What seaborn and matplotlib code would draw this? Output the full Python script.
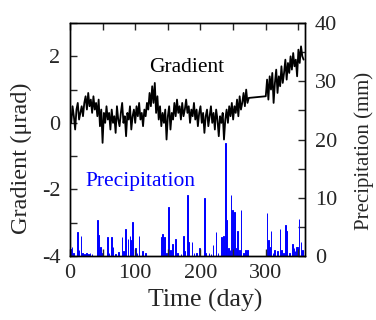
import seaborn as sns
import matplotlib.pyplot as plt
from matplotlib.ticker import MultipleLocator

# gradient, every 2 days (day 0-274, then 300-358)
grad_day = list(range(0, 276, 2)) + list(range(300, 360, 2))
grad_val = [
    0.3, 0.0, 0.5, 0.2, -0.2, 0.4, 0.6, 0.1, 0.3, 0.5,
    0.2, 0.6, 0.8, 0.4, 0.9, 0.5, 0.7, 0.3, 0.8, 0.4,
    0.6, 0.2, 0.7, -0.1, 0.4, -0.6, 0.3, 0.0, 0.5, 0.1,
    0.3, -0.2, 0.4, 0.0, 0.2, -0.3, 0.5, 0.1, -0.1, 0.3,
    0.6, 0.0, 0.2, -0.4, 0.3, 0.1, 0.5, -0.2, 0.2, 0.4,
    0.0, 0.5, 0.2, 0.6, 0.1, 0.3, -0.1, 0.4, 0.2, 0.6,
    0.4, 0.9, 0.5, 1.1, 0.6, 1.2, 0.3, 0.8, 0.1, 0.5,
    -0.1, 0.3, 0.0, 0.4, -0.5, 0.2, 0.5, -0.2, 0.3, 0.1,
    0.6, 0.2, 0.7, 0.3, 0.5, 0.1, 0.6, 0.2, 0.4, 0.7,
    0.3, 0.5, 0.0, 0.4, 0.2, 0.6, 0.1, 0.4, -0.1, 0.3,
    0.5, 0.0, 0.3, -0.3, 0.2, 0.4, -0.1, 0.2, 0.5, 0.0,
    0.3, -0.2, 0.4, 0.1, -0.4, 0.2, 0.0, 0.3, -0.5, 0.1,
    0.4, 0.0, 0.5, 0.2, 0.6, 0.1, 0.5, 0.3, 0.7, 0.2,
    0.8, 0.4, 0.6, 0.9, 0.5, 1.0, 0.6, 0.75,
    0.8, 1.3, 0.7, 1.4, 1.0, 1.5, 0.6, 1.2, 1.6, 0.9,
    1.4, 1.1, 1.7, 1.2, 1.5, 1.9, 1.3, 1.8, 1.5, 2.0,
    1.6, 2.1, 1.7, 1.9, 1.4, 2.2, 1.8, 2.3, 2.0, 1.9,
]

# daily precipitation (mm)
rain_day = [1, 3, 5, 12, 14, 17, 19, 22, 25, 28, 31, 34, 42, 44, 47, 50, 58, 60,
            64, 66, 70, 74, 80, 82, 85, 89, 92, 93, 96, 100, 103, 106, 111, 116,
            140, 142, 145, 148, 151, 154, 157, 162, 165, 170, 174, 176, 180, 182,
            187, 190, 194, 198, 206, 208, 213, 216, 219, 224, 227, 232, 235, 238,
            240, 243, 245, 247, 249, 252, 255, 257, 260, 262, 266, 269, 272,
            302, 304, 306, 308, 311, 313, 318, 322, 324, 327, 330, 332, 336,
            341, 343, 345, 347, 349, 351, 354, 356]
rain_mm = [1.2, 1.5, 0.6, 4.1, 1.0, 3.4, 0.6, 0.4, 0.5, 0.3, 0.5, 0.3, 6.2, 3.6,
           1.5, 0.6, 3.2, 0.5, 3.3, 1.5, 0.4, 0.7, 3.2, 0.8, 4.6, 3.0, 3.4, 2.7,
           5.8, 1.3, 0.5, 3.5, 0.8, 0.5, 3.2, 3.8, 3.2, 0.6, 8.4, 1.0, 2.1, 3.0,
           0.5, 0.4, 3.4, 0.8, 10.5, 2.4, 2.4, 0.6, 0.6, 1.3, 10.0, 0.5, 0.6,
           0.4, 1.9, 4.1, 0.6, 3.3, 3.4, 19.4, 6.2, 1.3, 1.0, 10.5, 7.9, 7.6,
           1.3, 4.3, 1.0, 7.9, 0.5, 1.0, 1.1, 7.4, 2.7, 1.5, 4.3, 0.6, 1.0, 0.8,
           4.6, 1.0, 0.5, 5.3, 4.3, 0.6, 2.0, 1.3, 0.8, 1.5, 1.5, 6.3, 2.4, 1.0]

sns.set_style("ticks")
plt.rcParams['font.family'] = ['Liberation Serif', 'DejaVu Serif']
plt.rcParams['font.size'] = 16
plt.rcParams['axes.unicode_minus'] = False

fig = plt.figure(figsize=(3.76, 3.2), dpi=100)
ax = fig.add_axes([0.186, 0.2, 0.625, 0.728])
ax2 = ax.twinx()

sns.histplot(x=rain_day, weights=rain_mm, discrete=True, color='blue',
             alpha=1, edgecolor='blue', linewidth=0.7, ax=ax2)
sns.lineplot(x=grad_day, y=grad_val, color='black', lw=1.3, ax=ax)

ax.set_zorder(ax2.get_zorder() + 1)
ax.patch.set_visible(False)

ax.set_xlim(0, 360)
ax.set_ylim(-4, 3)
ax2.set_ylim(0, 40)

ax.xaxis.set_major_locator(MultipleLocator(100))
ax.xaxis.set_minor_locator(MultipleLocator(50))
ax.yaxis.set_major_locator(MultipleLocator(2))
ax.yaxis.set_minor_locator(MultipleLocator(1))
ax2.yaxis.set_major_locator(MultipleLocator(10))
ax2.yaxis.set_minor_locator(MultipleLocator(5))

ax.tick_params(axis='x', which='both', direction='in', top=True, length=5, width=1, labelsize=16, pad=6)
ax.tick_params(axis='y', which='both', direction='in', length=5, width=1, labelsize=16, pad=7)
ax2.tick_params(axis='y', which='both', direction='in', length=5, width=1, labelsize=16, pad=7)

ax.set_xlabel('Time (day)', fontsize=18.5, labelpad=2)
ax.xaxis.set_label_coords(0.575, -0.14)
ax.set_ylabel('Gradient (μrad)', fontsize=17.5)
ax.yaxis.set_label_coords(-0.16, 0.42)
ax2.set_ylabel('Precipitation (mm)', fontsize=15)
ax2.yaxis.set_label_coords(1.21, 0.45)

ax.text(122, 1.65, 'Gradient', color='black', fontsize=15.5, va='center')
ax.text(24, -1.77, 'Precipitation', color='blue', fontsize=15.5, va='center')

for a in (ax, ax2):
    for s in a.spines.values():
        s.set_linewidth(1)
        s.set_color('black')

fig.savefig('out.png', dpi=100)
